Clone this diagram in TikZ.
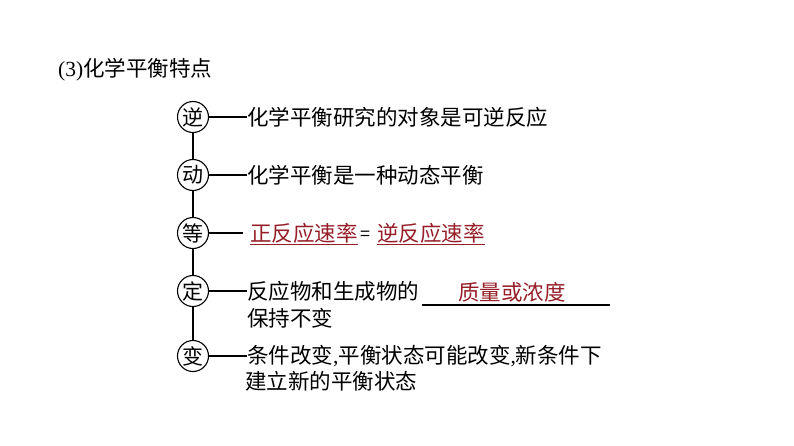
\documentclass[tikz,border=0pt]{standalone}
\usepackage{fontspec}
\setmainfont{Noto Sans CJK SC}
\newfontfamily\latinserif{Liberation Serif}
\definecolor{ansred}{RGB}{150,30,40}
\begin{document}
\begin{tikzpicture}[x=1pt,y=-1pt,
  mark circle/.style={draw,line width=1.1pt,circle,minimum size=31pt,inner sep=0pt,font=\fontsize{21}{21}\selectfont},
  txt/.style={anchor=west,inner sep=0pt,font=\fontsize{21.5}{24}\selectfont},
  ans/.style={txt,text=ansred},
  conn/.style={line width=1.1pt}]
\useasboundingbox (0,0) rectangle (794,445);
\node[txt] (title) at (58,70) {{\latinserif (3)}化学平衡特点};
% circles
\node[mark circle] (c1) at (193,117) {逆};
\node[mark circle] (c2) at (193,175) {动};
\node[mark circle] (c3) at (193,233) {等};
\node[mark circle] (c4) at (193,291) {定};
\node[mark circle] (c5) at (193,356) {变};
\draw[conn] (c1) -- (c2);
\draw[conn] (c2) -- (c3);
\draw[conn] (c3) -- (c4);
\draw[conn] (c4) -- (c5);
% texts
\node[txt] (t1) at (247,117) {化学平衡研究的对象是可逆反应};
\node[txt] (t2) at (247,175) {化学平衡是一种动态平衡};
\node[ans] (t3a) at (250,233) {正反应速率};
\node[txt,font=\fontsize{18}{20}\selectfont] (eq) at (360,236) {=};
\node[ans] (t3b) at (377,233) {逆反应速率};
\node[txt] (t4) at (247,291) {反应物和生成物的};
\node[ans] (t4a) at (458,292) {质量或浓度};
\node[txt] (t4b) at (247,318) {保持不变};
\node[txt] (t5) at (247,356) {条件改变{\latinserif ,}平衡状态可能改变{\latinserif ,}新条件下};
\node[txt] (t5b) at (245,381) {建立新的平衡状态};
% connectors
\draw[conn] (c1.east) -- (t1.west);
\draw[conn] (c2.east) -- (t2.west);
\draw[conn] (c3.east) -- ([xshift=-7pt]t3a.west);
\draw[conn] (c4.east) -- (t4.west);
\draw[conn] (c5.east) -- (t5.west);
% underlines
\draw[ansred,line width=1.2pt] ([yshift=-1pt]t3a.south west) -- ([yshift=-1pt]t3a.south east);
\draw[ansred,line width=1.2pt] ([yshift=-1pt]t3b.south west) -- ([yshift=-1pt]t3b.south east);
\coordinate (b1) at (422,305);
\coordinate (b2) at (610,305);
\draw[line width=1.3pt] (b1) -- (b2);
\end{tikzpicture}
\end{document}
